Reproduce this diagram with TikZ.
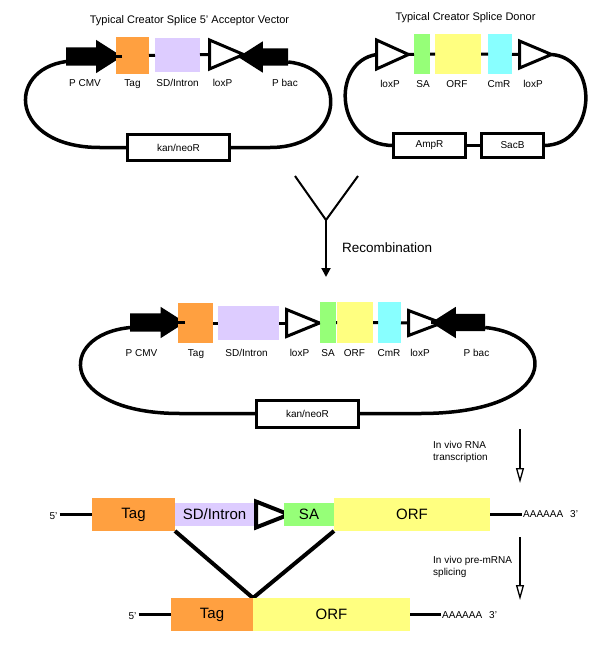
\documentclass[tikz,border=0pt]{standalone}
\usepackage{fontspec}
\setmainfont{Liberation Sans}
\usetikzlibrary{shapes.geometric, shapes.arrows, arrows.meta, positioning, backgrounds}
\usepackage{xcolor}
\definecolor{tagorange}{RGB}{255,160,64}
\definecolor{intronlilac}{RGB}{221,204,255}
\definecolor{sagreen}{RGB}{150,255,120}
\definecolor{orfyellow}{RGB}{255,255,128}
\definecolor{cmrcyan}{RGB}{136,255,255}

\begin{document}
\begin{tikzpicture}[x=1pt, y=-1pt, font=\fontsize{10}{12}\selectfont,
    feature/.style={rectangle, inner sep=0pt, outer sep=0pt},
    markerbox/.style={rectangle, draw, line width=3pt, fill=white, inner sep=0pt, outer sep=0pt},
    lox/.style={isosceles triangle, isosceles triangle stretches, draw, line width=3pt, fill=white, inner sep=0pt, outer sep=0pt, anchor=west},
    promoter/.style={single arrow, fill=black, inner xsep=0pt, text height=0pt, text depth=0pt, single arrow tip angle=65, outer sep=0pt},
    partname/.style={anchor=base},
    backbone/.style={line width=3pt},
    ring/.style={line width=3.5pt},
    big/.style={font=\fontsize{15}{18}\selectfont},
    process/.style={line width=2pt, -{Triangle[open, width=8pt, length=15pt, line width=1.3pt]}}]
    \useasboundingbox (0,0) rectangle (600,659);

    % acceptor vector
    \node[partname, font=\fontsize{11}{13}\selectfont] (acctitle) at (189.5,23) {Typical Creator Splice 5' Acceptor Vector};
    \node[promoter, inner ysep=9pt, single arrow head extend=7.5pt, minimum height=56pt] (pcmvA) at (87,56.5) {};
    \node[feature, fill=tagorange, minimum width=33pt, minimum height=37pt] (tagA) at (132.5,55.5) {};
    \node[feature, fill=intronlilac, minimum width=45pt, minimum height=34pt] (sdA) at (177.5,55) {};
    \node[lox, minimum width=29pt, minimum height=34pt] (loxA) at (209.5,54.5) {};
    \node[promoter, shape border rotate=180, inner ysep=8.5pt, single arrow head extend=7pt, minimum height=50pt] (pbacA) at (270,57) {};
    \node[markerbox, minimum width=102pt, minimum height=26pt] (kanA) at (178.5,147.5) {kan/neoR};

    \node[partname] at (85,86) {P CMV};
    \node[partname] at (132.5,86) {Tag};
    \node[partname] at (177.5,86) {SD/Intron};
    \node[partname] at (222.5,86) {loxP};
    \node[partname] at (285,86) {P bac};

    \draw[backbone] (pcmvA.tip) -- (pcmvA.tip -| tagA.west);
    \draw[backbone] (tagA) -- (sdA) -- (loxA.west);
    \draw[backbone] (loxA.apex) -- (pbacA.tip);
    \draw[ring] ([yshift=-5pt]pcmvA.tail) .. controls (5,70) and (10,147.5) .. (100,147.5) -- (kanA.west);
    \draw[ring] (kanA.east) -- (270,147.5) .. controls (345,147.5) and (350,68) .. ([yshift=-5pt]pbacA.tail);

    % donor vector
    \node[partname, font=\fontsize{11}{13}\selectfont] (dontitle) at (465.5,20) {Typical Creator Splice Donor};
    \node[lox, minimum width=29pt, minimum height=32pt] (loxB) at (376.5,54.5) {};
    \node[feature, fill=sagreen, minimum width=16pt, minimum height=40pt] (saB) at (422,54) {};
    \node[feature, fill=orfyellow, minimum width=46pt, minimum height=40pt] (orfB) at (458,54) {};
    \node[feature, fill=cmrcyan, minimum width=24pt, minimum height=40pt] (cmrB) at (500,54) {};
    \node[lox, minimum width=27pt, minimum height=32pt] (loxBB) at (519.5,54.5) {};
    \node[markerbox, minimum width=72pt, minimum height=24pt] (ampB) at (429.5,145.5) {AmpR};
    \node[markerbox, minimum width=62pt, minimum height=24pt] (sacB) at (512.5,145.5) {SacB};

    \node[partname] at (390,87) {loxP};
    \node[partname] at (423,87) {SA};
    \node[partname] at (457,87) {ORF};
    \node[partname] at (499,87) {CmR};
    \node[partname] at (533,87) {loxP};

    \draw[backbone] (loxB.apex) -- (saB) -- (orfB) -- (cmrB) -- (loxBB.west);
    \draw[ring] (ampB) -- (sacB);
    \draw[ring] (loxB.west) .. controls (330,62) and (335,145.5) .. (ampB.west);
    \draw[ring] (sacB.east) .. controls (597,145.5) and (600,58) .. (loxBB.apex);

    % recombination
    \coordinate (yleft) at (295,176);
    \coordinate (yright) at (358,176);
    \coordinate (yjoin) at (326,220);
    \coordinate (yend) at (326,277);
    \draw[line width=2pt] (yleft) -- (yjoin) -- (yright);
    \draw[line width=2pt, -{Triangle[width=9pt, length=9pt]}] (yjoin) -- (yend);
    \node[anchor=base west, inner sep=0pt, font=\fontsize{13.5}{16}\selectfont] (recomb) at (342,252.5) {Recombination};

    % recombined vector
    \node[promoter, inner ysep=9pt, single arrow head extend=6.5pt, minimum height=55pt] (pcmvC) at (150.5,322.5) {};
    \node[feature, fill=tagorange, minimum width=35pt, minimum height=40pt] (tagC) at (195.5,323) {};
    \node[feature, fill=intronlilac, minimum width=61pt, minimum height=34pt] (sdC) at (248.5,323) {};
    \node[lox, minimum width=27pt, minimum height=33pt] (loxC) at (286.5,323) {};
    \node[feature, fill=sagreen, minimum width=16pt, minimum height=41pt] (saC) at (328,322.5) {};
    \node[feature, fill=orfyellow, minimum width=36pt, minimum height=41pt] (orfC) at (355,322.5) {};
    \node[feature, fill=cmrcyan, minimum width=23pt, minimum height=41pt] (cmrC) at (389.5,322.5) {};
    \node[lox, minimum width=25pt, minimum height=33pt] (loxCC) at (408.5,323) {};
    \node[promoter, shape border rotate=180, inner ysep=8.5pt, single arrow head extend=7pt, minimum height=54pt] (pbacC) at (465,322.5) {};
    \node[markerbox, minimum width=102pt, minimum height=27pt] (kanC) at (307.5,413.5) {kan/neoR};

    \node[partname] at (141.5,356) {P CMV};
    \node[partname] at (196,356) {Tag};
    \node[partname] at (246.5,356) {SD/Intron};
    \node[partname] at (299.5,356) {loxP};
    \node[partname] at (328,356) {SA};
    \node[partname] at (354.5,356) {ORF};
    \node[partname] at (389,356) {CmR};
    \node[partname] at (420,356) {loxP};
    \node[partname] at (476.5,356) {P bac};

    \draw[backbone] (pcmvC.tip) -- (pcmvC.tip -| tagC.west);
    \draw[backbone] (tagC) -- (sdC) -- (loxC.west);
    \draw[backbone] (loxC.apex) -- (saC) -- (orfC) -- (cmrC) -- (loxCC.west);
    \draw[backbone] (loxCC.apex) -- (pbacC.tip);
    \draw[ring] ([yshift=-5pt]pcmvC.tail) .. controls (55,335) and (60,413.5) .. (180,413.5) -- (kanC.west);
    \draw[ring] (kanC.east) -- (420,413.5) .. controls (560,413.5) and (560,335) .. ([yshift=-5pt]pbacC.tail);

    % transcription
    \coordinate (txtop) at (520,429);
    \coordinate (txend) at (520,483);
    \draw[process] (txtop) -- (txend);
    \node[anchor=north west, align=left, inner sep=0pt] (txlabel) at (433,441) {In vivo RNA\\transcription};

    % pre-mRNA
    \node[anchor=base, inner sep=2pt] (fiveR) at (53.5,519.5) {5'};
    \node[feature, fill=tagorange, minimum width=83pt, minimum height=33pt, big] (tagR) at (133.5,514.5) {Tag};
    \node[feature, fill=intronlilac, minimum width=79pt, minimum height=23pt, big] (sdR) at (214.5,514.5) {SD/Intron};
    \node[lox, line width=4pt, minimum width=26pt, minimum height=33pt] (loxR) at (256,514.5) {};
    \node[feature, fill=sagreen, minimum width=50pt, minimum height=23pt, big] (saR) at (309,514.5) {SA};
    \node[feature, fill=orfyellow, minimum width=156pt, minimum height=33pt, big] (orfR) at (412,514.5) {ORF};
    \node[anchor=base west, inner sep=1pt] (polyR) at (522,517.5) {AAAAAA\hspace{7pt}3'};
    \draw[backbone, line width=2.5pt] (fiveR.east |- tagR.west) -- (tagR.west);
    \draw[backbone, line width=2.5pt] (orfR.east) -- (orfR.east -| polyR.west);

    % splicing
    \coordinate (sptop) at (520,537);
    \coordinate (spend) at (520,600);
    \draw[process] (sptop) -- (spend);
    \node[anchor=north west, align=left, inner sep=0pt] (splabel) at (433,556) {In vivo pre-mRNA\\splicing};

    % mRNA
    \node[anchor=base, inner sep=2pt] (fiveM) at (132.5,619) {5'};
    \node[feature, fill=tagorange, minimum width=82pt, minimum height=33pt, big] (tagM) at (212,614.5) {Tag};
    \node[feature, fill=orfyellow, minimum width=157pt, minimum height=33pt, big] (orfM) at (331.5,614.5) {ORF};
    \node[anchor=base west, inner sep=1pt] (polyM) at (441,618) {AAAAAA\hspace{7pt}3'};
    \draw[backbone, line width=2.5pt] (fiveM.east |- tagM.west) -- (tagM.west);
    \draw[backbone, line width=2.5pt] (orfM.east) -- (orfM.east -| polyM.west);

    \begin{scope}[on background layer]
        \draw[line width=4pt] (tagR.south east) -- (tagM.north east) -- (orfR.south west);
    \end{scope}
\end{tikzpicture}
\end{document}
